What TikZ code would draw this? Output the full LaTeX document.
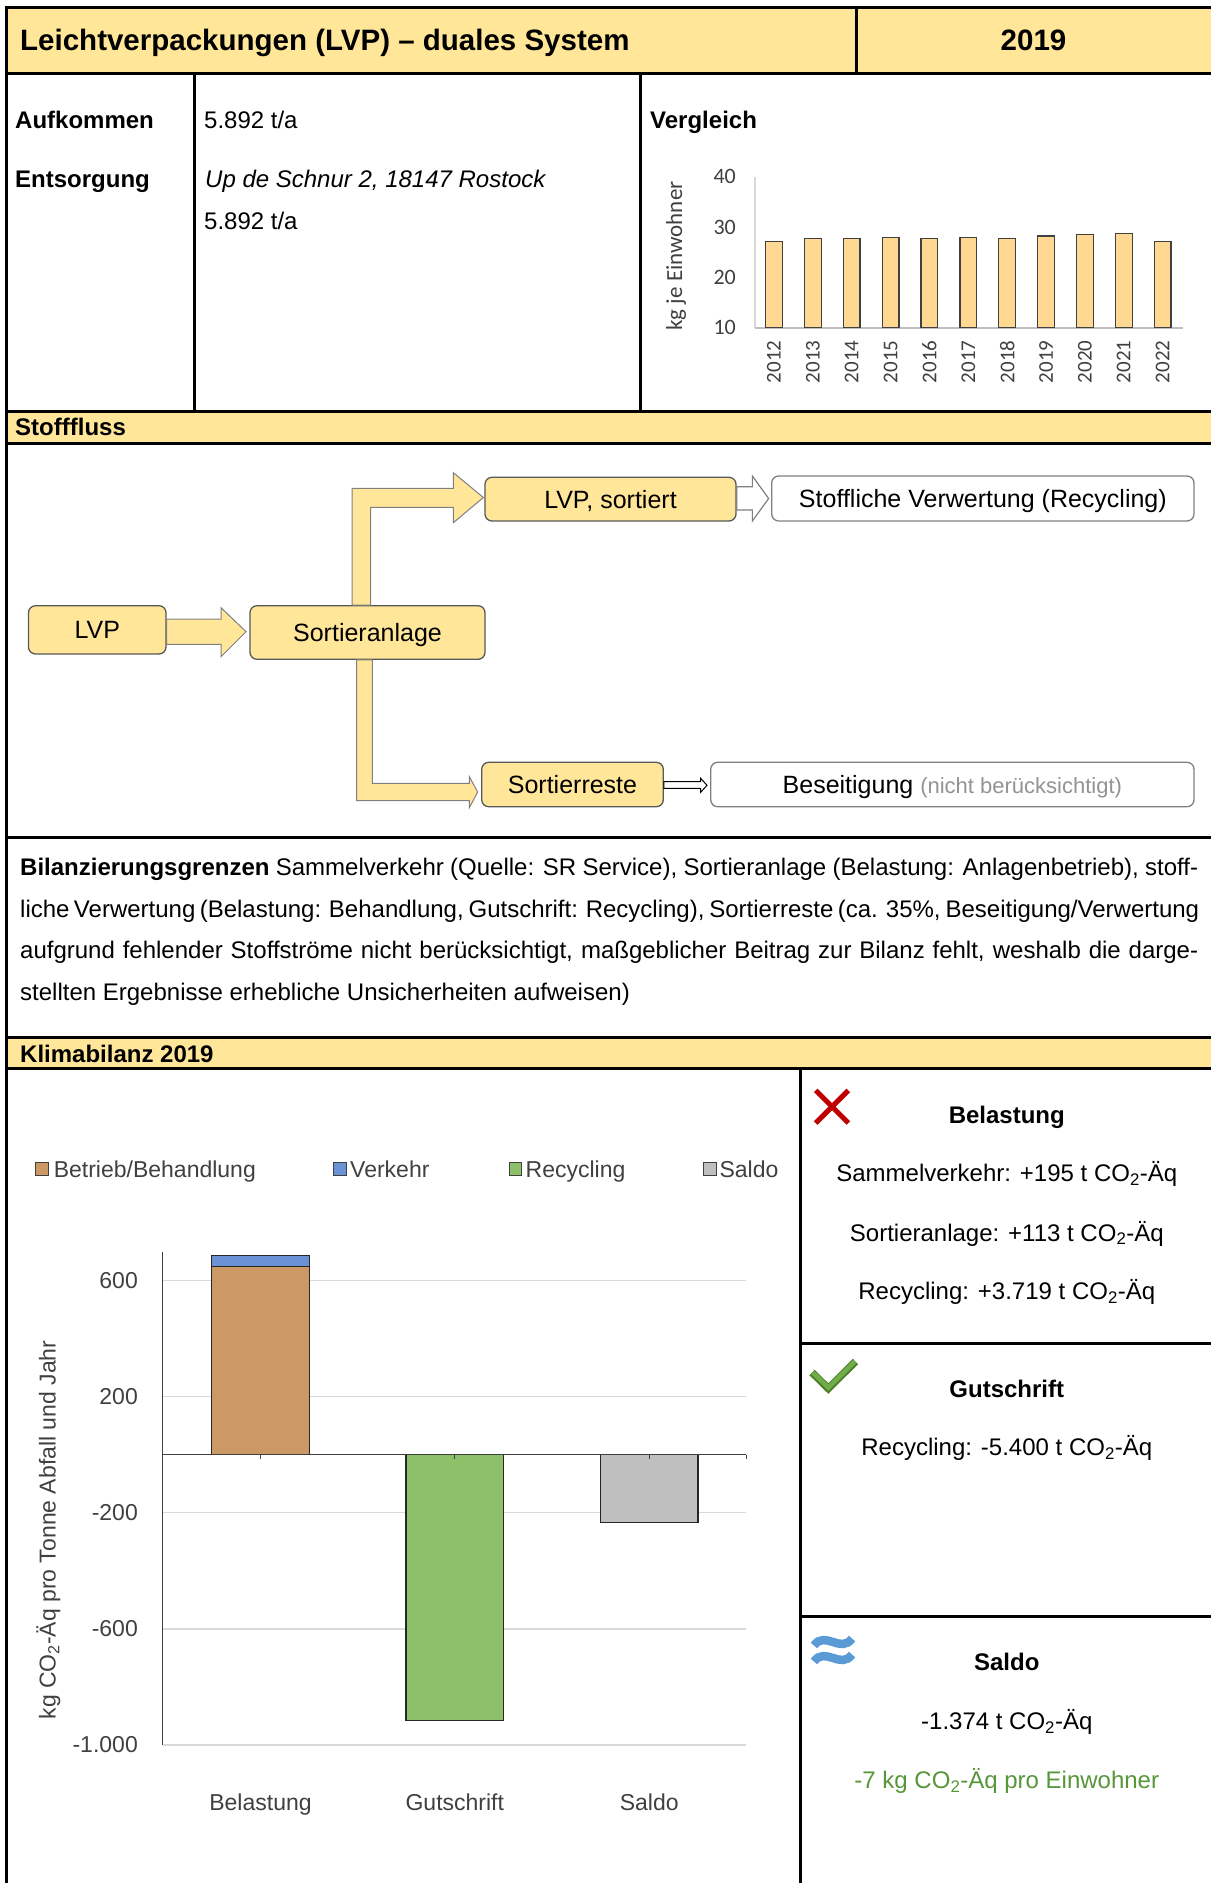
\documentclass[tikz,border=0pt]{standalone}
\usepackage{fontspec}
\setmainfont{Liberation Sans}
\newfontfamily\calfont{Carlito}
\usetikzlibrary{calc}
\newcommand\fsz[1]{\fontsize{#1}{#1}\selectfont}
\definecolor{hdrylw}{HTML}{FFE699}
\definecolor{boxline}{HTML}{595959}
\definecolor{cmpbar}{HTML}{FFD992}
\definecolor{brownbar}{RGB}{204,153,102}
\definecolor{bluebar}{RGB}{108,146,214}
\definecolor{greenbar}{RGB}{141,192,104}
\definecolor{graybar}{HTML}{BFBFBF}
\definecolor{gridgray}{HTML}{D9D9D9}
\definecolor{txtgray}{HTML}{404040}
\definecolor{goodgreen}{RGB}{88,150,58}
\definecolor{crossred}{HTML}{C00000}
\definecolor{wavyblue}{HTML}{5B9BD5}
\definecolor{tickgreen}{HTML}{70AD47}
\definecolor{tickdark}{HTML}{4E7F2F}
\begin{document}
\begin{tikzpicture}[x=1pt,y=-1pt,
  tline/.style={line width=3pt,black},
  txt/.style={inner sep=0pt,anchor=base west,font=\fsz{24}},
  btxt/.style={inner sep=0pt,anchor=base west,font=\fsz{24}\bfseries},
  ptxt/.style={inner sep=0pt,anchor=base,font=\fsz{24}},
  flowtext/.style={inner sep=0pt,font=\fsz{25},text height=22.5pt,text depth=4.5pt},
  ybox/.style={flowtext,draw=boxline,line width=1.3pt,fill=hdrylw,rounded corners=7pt},
  wbox/.style={flowtext,draw=gray,line width=1.3pt,fill=white,rounded corners=7pt},
  fatarrow/.style={draw=gray,line width=1pt,fill=hdrylw,line join=miter},
  hollowarrow/.style={draw=boxline,line width=1.2pt,fill=white,line join=miter},
  cmptick/.style={inner sep=0pt,anchor=east,font=\calfont\fsz{22},text=txtgray},
  cmpyear/.style={inner sep=0pt,anchor=east,rotate=90,font=\calfont\fsz{21},text=txtgray},
  chtick/.style={inner sep=0pt,anchor=east,font=\fsz{23},text=txtgray},
  chlab/.style={inner sep=0pt,anchor=base,font=\fsz{23},text=txtgray},
  legtxt/.style={inner sep=0pt,anchor=base west,font=\fsz{23},text=txtgray},
  legsq/.style={draw=txtgray,line width=1pt}]

\useasboundingbox (0,0) rectangle (1211,1883);
\fill[white] (0,0) rectangle (1211,1883);

% ---- yellow header bands ----
\fill[hdrylw] (6,7) rectangle (1211,73);
\fill[hdrylw] (6,411) rectangle (1211,443);
\fill[hdrylw] (6,1037) rectangle (1211,1068);

% ---- table rules ----
\draw[tline] (6,5.5) -- (6,1883);
\foreach \yy in {7,73,411,443,837,1037,1068} \draw[tline] (4.5,\yy) -- (1211,\yy);
\draw[tline] (856,7) -- (856,73);
\draw[tline] (194,73) -- (194,411);
\draw[tline] (640,73) -- (640,411);
\draw[tline] (800,1068) -- (800,1883);
\draw[tline] (800,1343) -- (1211,1343);
\draw[tline] (800,1616) -- (1211,1616);

% ---- title row ----
\node[inner sep=0pt,anchor=base west,font=\fsz{29.5}\bfseries] (title) at (20,50.5) {Leichtverpackungen (LVP) -- duales System};
\node[inner sep=0pt,anchor=base,font=\fsz{29.5}\bfseries] (year) at (1033.5,50.5) {2019};

% ---- key figures ----
\node[btxt] (aufk) at (15,128) {Aufkommen};
\node[txt] (aufkv) at (204,128) {5.892 t/a};
\node[btxt] (ents) at (15,187.6) {Entsorgung};
\node[txt,font=\fsz{24}\itshape] (addr) at (205,187.6) {Up de Schnur 2, 18147 Rostock};
\node[txt] (entsv) at (204,229.6) {5.892 t/a};
\node[btxt] (vgl) at (650,128) {Vergleich};

% ---- comparison chart (kg per inhabitant) ----
\def\cmpbase{327.8}
\def\cmpscale{5.043}
\draw[gridgray,line width=1.2pt] (755,176.5) -- (755,\cmpbase);
\draw[graybar,line width=1.5pt] (755,\cmpbase) -- (1182.6,\cmpbase);
\foreach \v in {10,20,30,40} \node[cmptick] (ct\v) at (736,{\cmpbase-\cmpscale*(\v-10)}) {\v};
\foreach \v [count=\i from 0] in {27.1,27.65,27.65,27.9,27.65,27.9,27.65,28.2,28.45,28.7,27.1} {
  \pgfmathsetmacro\cx{774+38.86*\i}
  \pgfmathsetmacro\ytop{\cmpbase-\cmpscale*(\v-10)}
  \pgfmathtruncatemacro\yr{2012+\i}
  \draw[fill=cmpbar,draw=txtgray,line width=1.3pt] (\cx-8.4,\cmpbase) rectangle (\cx+8.4,\ytop);
  \node[cmpyear] (yr\i) at (\cx,340.5) {\yr};
}
\node[inner sep=0pt,rotate=90,font=\calfont\fsz{23},text=txtgray] (cmpy) at (676,256) {kg je Einwohner};

% ---- section label ----
\node[btxt] (flowhd) at (15,435.6) {Stofffluss};

% ---- material flow ----
\node[ybox,minimum width=137.5pt,minimum height=48.3pt] (lvp) at (97.25,629.85) {LVP};
\node[ybox,minimum width=235pt,minimum height=53.6pt] (sort) at (367.5,632.5) {Sortieranlage};
\node[ybox,minimum width=251pt,minimum height=43.7pt] (lvps) at (610.5,499.15) {LVP, sortiert};
\node[wbox,minimum width=422.3pt,minimum height=45pt] (stoff) at (982.85,498.5) {Stoffliche Verwertung (Recycling)};
\node[ybox,minimum width=181.6pt,minimum height=44.4pt] (rest) at (572.5,784.5) {Sortierreste};
\node[wbox,minimum width=483.3pt,minimum height=44.4pt] (bes) at (952.35,784.5) {Beseitigung {\color{gray!85}\fsz{22}(nicht berücksichtigt)}};

% LVP -> Sortieranlage
\draw[fatarrow] ($(lvp.east)+(0,-10.85)$) -- ($(sort.west)+(-28.3,-13.5)$) -- ($(sort.west)+(-28.3,-24.8)$)
  -- ($(sort.west)+(-3.3,-0.8)$) -- ($(sort.west)+(-28.3,24.2)$) -- ($(sort.west)+(-28.3,11.8)$)
  -- ($(lvp.east)+(0,14.45)$) -- cycle;
% Sortieranlage -> LVP, sortiert
\draw[fatarrow] ($(sort.north)+(-15.5,0)$) |- ($(lvps.west)+(-31,-10.85)$) -- ($(lvps.west)+(-31,-26.45)$)
  -- ($(lvps.west)+(-1,-1.65)$) -- ($(lvps.west)+(-31,23.55)$) -- ($(lvps.west)+(-31,8.15)$)
  -| ($(sort.north)+(3.2,0)$) -- cycle;
% Sortieranlage -> Sortierreste
\draw[fatarrow] ($(sort.south)+(-10.8,0)$) |- ($(rest.west)+(-11.7,16.2)$) -- ($(rest.west)+(-11.7,23.2)$)
  -- ($(rest.west)+(-3.4,7.5)$) -- ($(rest.west)+(-11.7,-7.8)$) -- ($(rest.west)+(-11.7,-1.2)$)
  -| ($(sort.south)+(4.8,0)$) -- cycle;
% LVP, sortiert -> Stoffliche Verwertung
\draw[hollowarrow,draw=gray] ($(lvps.east)+(0,-12.45)$) -- ($(lvps.east)+(15.7,-12.45)$) -- ($(lvps.east)+(15.7,-23.15)$)
  -- ($(stoff.west)+(-2.4,0)$) -- ($(lvps.east)+(15.7,21.85)$) -- ($(lvps.east)+(15.7,10.85)$)
  -- ($(lvps.east)+(0,10.85)$) -- cycle;
% Sortierreste -> Beseitigung
\draw[hollowarrow,line width=1pt,draw=black] ($(rest.east)+(0,-2.8)$) -- ($(rest.east)+(36.7,-2.8)$) -- ($(rest.east)+(36.7,-6.2)$)
  -- ($(bes.west)+(-3,0.8)$) -- ($(rest.east)+(36.7,7.8)$) -- ($(rest.east)+(36.7,3.8)$)
  -- ($(rest.east)+(0,3.8)$) -- cycle;

% ---- system boundaries ----
\node[txt] (bg1) at (20,875.6) {\makebox[1178pt][s]{\textbf{Bilanzierungsgrenzen} Sammelverkehr (Quelle: SR Service), Sortieranlage (Belastung: Anlagenbetrieb), stoff-}};
\node[txt] (bg2) at (20,917.6) {\makebox[1178pt][s]{liche Verwertung (Belastung: Behandlung, Gutschrift: Recycling), Sortierreste (ca. 35\%, Beseitigung/Verwertung}};
\node[txt] (bg3) at (20,958.8) {\makebox[1178pt][s]{aufgrund fehlender Stoffströme nicht berücksichtigt, maßgeblicher Beitrag zur Bilanz fehlt, weshalb die darge-}};
\node[txt] (bg4) at (20,1000.6) {stellten Ergebnisse erhebliche Unsicherheiten aufweisen)};

\node[btxt] (klhd) at (20,1062) {Klimabilanz 2019};

% ---- climate balance chart ----
\foreach \gy in {1280.5,1396.6,1512.8,1628.9,1745} \draw[gridgray,line width=1.2pt] (162.8,\gy) -- (746,\gy);
\draw[txtgray,line width=1pt] (162.8,1251.6) -- (162.8,1745);
\node[chtick] (t600) at (138,1280.5) {600};
\node[chtick] (t200) at (138,1396.6) {200};
\node[chtick] (tm200) at (138,1512.8) {-200};
\node[chtick] (tm600) at (138,1628.9) {-600};
\node[chtick] (tm1000) at (138,1745) {-1.000};

\draw[fill=brownbar,draw=black!85,line width=1.2pt] (211.7,1454.7) rectangle (309.2,1266.3);
\draw[fill=bluebar,draw=black!85,line width=1.2pt] (211.7,1266.3) rectangle (309.2,1255.8);
\draw[fill=greenbar,draw=black!85,line width=1.2pt] (406,1454.7) rectangle (503.6,1720.8);
\draw[fill=graybar,draw=black!85,line width=1.2pt] (600.5,1454.7) rectangle (698,1522.4);
\draw[txtgray,line width=1.5pt] (162.8,1454.7) -- (746,1454.7);
\foreach \tx in {260.5,454.8,649.2,746} \draw[txtgray,line width=1pt] (\tx,1454.7) -- (\tx,1459);

\node[chlab] (cbel) at (260.5,1810) {Belastung};
\node[chlab] (cgut) at (454.8,1810) {Gutschrift};
\node[chlab] (csal) at (649.2,1810) {Saldo};
\node[inner sep=0pt,rotate=90,font=\fsz{23},text=txtgray] (chy) at (48.5,1530) {kg CO\textsubscript{2}-Äq pro Tonne Abfall und Jahr};

% legend
\draw[legsq,fill=brownbar] (35.7,1162.4) rectangle (48.5,1175.2);
\node[legtxt] (l1) at (53.6,1177) {Betrieb/Behandlung};
\draw[legsq,fill=bluebar] (333.7,1162.4) rectangle (346.5,1175.2);
\node[legtxt] (l2) at (350,1177) {Verkehr};
\draw[legsq,fill=greenbar] (509,1162.4) rectangle (521.8,1175.2);
\node[legtxt] (l3) at (525.5,1177) {Recycling};
\draw[legsq,fill=graybar] (703.6,1162.4) rectangle (716.4,1175.2);
\node[legtxt] (l4) at (719.4,1177) {Saldo};

% ---- result panel ----
\draw[crossred,line width=5pt] (815.7,1090.4) -- (848.3,1123);
\draw[crossred,line width=5pt] (848.3,1090.4) -- (815.7,1123);
\node[ptxt,font=\fsz{24}\bfseries] (rbel) at (1006.8,1123.6) {Belastung};
\node[ptxt] (r1) at (1006.8,1181.6) {Sammelverkehr: +195 t CO\textsubscript{2}-Äq};
\node[ptxt] (r2) at (1006.8,1241) {Sortieranlage: +113 t CO\textsubscript{2}-Äq};
\node[ptxt] (r3) at (1006.8,1299.8) {Recycling: +3.719 t CO\textsubscript{2}-Äq};

\draw[tickdark,line width=7.5pt,line join=miter] (812,1372.5) -- (828.3,1388.5) -- (855.5,1361.5);
\draw[tickgreen,line width=4.5pt,line join=miter] (812.8,1372.5) -- (828.3,1387.6) -- (854.8,1361.5);
\node[ptxt,font=\fsz{24}\bfseries] (rgut) at (1006.8,1397) {Gutschrift};
\node[ptxt] (r4) at (1006.8,1455.9) {Recycling: -5.400 t CO\textsubscript{2}-Äq};

\foreach \wy in {1642,1658} \draw[wavyblue,line width=8.5pt] (814,\wy+3.5) .. controls (825,\wy-12) and (841,\wy+12) .. (852,\wy-3.5);
\node[ptxt,font=\fsz{24}\bfseries] (rsal) at (1006.8,1670.4) {Saldo};
\node[ptxt] (r5) at (1006.8,1729.6) {-1.374 t CO\textsubscript{2}-Äq};
\node[ptxt,text=goodgreen] (r6) at (1006.8,1788.6) {-7 kg CO\textsubscript{2}-Äq pro Einwohner};
\end{tikzpicture}
\end{document}
